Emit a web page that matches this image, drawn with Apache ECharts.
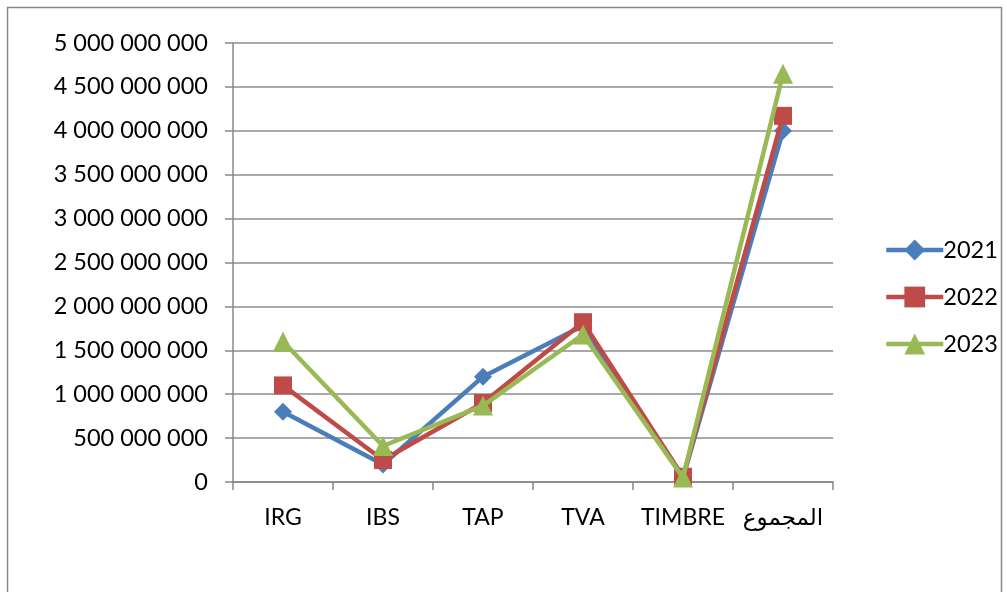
<!DOCTYPE html>
<html>
<head>
<meta charset="utf-8">
<script src="https://cdn.jsdelivr.net/npm/echarts@6/dist/echarts.min.js"></script>
<style>
  html, body { margin: 0; padding: 0; background: #fff; }
  #chart { width: 1007px; height: 592px; }
</style>
</head>
<body>
<div id="chart"></div>
<script>
// Tax categories and yearly amounts
const categories = ['IRG', 'IBS', 'TAP', 'TVA', 'TIMBRE', 'المجموع'];
const values2021 = [800000000, 200000000, 1200000000, 1780000000, 50000000, 4000000000];
const values2022 = [1100000000, 250000000, 900000000, 1820000000, 60000000, 4170000000];
const values2023 = [1600000000, 410000000, 870000000, 1680000000, 50000000, 4650000000];
const seriesNames = ['2021', '2022', '2023'];

const FONT = "Lato, 'DejaVu Sans', sans-serif";

function spaced(v) {
  return String(Math.round(v)).replace(/\B(?=(\d{3})+(?!\d))/g, ' ');
}

const chart = echarts.init(document.getElementById('chart'), null, { renderer: 'canvas' });

const colors = ['#4a7ebb', '#be4b48', '#98b954'];
const symbols = ['diamond', 'rect', 'triangle'];
const sizes = [18, 18, 20];
const dataSets = [values2021, values2022, values2023];

chart.setOption({
  animation: false,
  backgroundColor: '#fff',
  textStyle: { fontFamily: FONT },
  graphic: [{
    type: 'rect',
    shape: { x: 7.5, y: 7.5, width: 994, height: 600 },
    style: { fill: 'none', stroke: '#888', lineWidth: 1.5 },
    silent: true
  }],
  grid: { left: 233, right: 174, top: 43, bottom: 110 },
  legend: {
    orient: 'vertical',
    left: 879,
    top: 233,
    itemGap: 23,
    itemWidth: 57,
    itemHeight: 26,
    lineStyle: { width: 4.5 },
    textStyle: { fontSize: 23.5, color: '#000', fontFamily: FONT, padding: [0, 0, 0, -5] },
    data: seriesNames
  },
  xAxis: {
    type: 'category',
    data: categories,
    boundaryGap: true,
    axisLine: { lineStyle: { color: '#888', width: 1.5 } },
    axisTick: { show: true, length: 8, lineStyle: { color: '#888', width: 1.5 } },
    axisLabel: { color: '#000', fontSize: 23, margin: 24, fontFamily: FONT, interval: 0 }
  },
  yAxis: {
    type: 'value',
    min: 0,
    max: 5000000000,
    interval: 500000000,
    axisLine: { show: true, lineStyle: { color: '#888', width: 1.5 } },
    axisTick: { show: true, length: 8, lineStyle: { color: '#888', width: 1.5 } },
    splitLine: { lineStyle: { color: '#8c8c8c', width: 1.5 } },
    axisLabel: { color: '#000', fontSize: 23.5, margin: 25, fontFamily: FONT, formatter: spaced }
  },
  series: seriesNames.map((name, i) => ({
    name: name,
    type: 'line',
    data: dataSets[i],
    symbol: symbols[i],
    symbolSize: sizes[i],
    lineStyle: { color: colors[i], width: 4.5 },
    itemStyle: { color: colors[i] },
    z: 2 + i
  }))
});
</script>
</body>
</html>
